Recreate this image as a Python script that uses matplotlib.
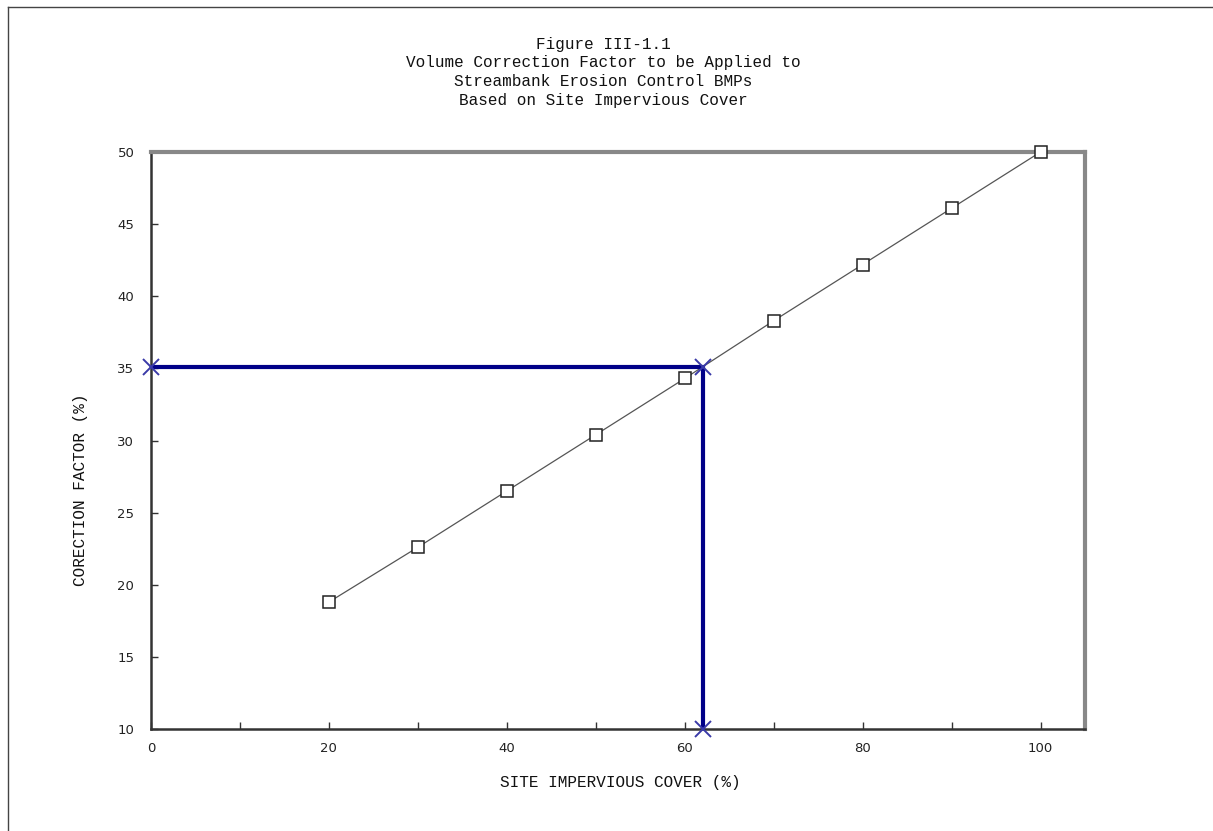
import matplotlib
matplotlib.use('Agg')
import matplotlib.pyplot as plt
from matplotlib.lines import Line2D

# dados da curva
impervious = [20, 30, 40, 50, 60, 70, 80, 90, 100]
factor = [18.8, 22.6, 26.5, 30.4, 34.3, 38.3, 42.2, 46.1, 50.0]

# exemplo de leitura (linha azul)
ex_x = [0, 62, 62]
ex_y = [35.1, 35.1, 10]

title_lines = ['Figure III-1.1',
               'Volume Correction Factor to be Applied to',
               'Streambank Erosion Control BMPs',
               'Based on Site Impervious Cover']

mono = 'Liberation Mono'

fig = plt.figure(figsize=(12.13, 8.31), dpi=100)
ax = fig.add_axes([151 / 1213, 1 - 729 / 831, (1085 - 151) / 1213, (729 - 152) / 831])

ax.plot(impervious, factor, color='#555555', lw=0.9, marker='s', ms=8,
        mfc='white', mec='#222222', mew=1.1, zorder=3, clip_on=False)
ax.plot(ex_x, ex_y, color='#000088', lw=3, solid_joinstyle='miter', zorder=4)
ax.plot(ex_x, ex_y, ls='none', marker='x', ms=11, mec='#3a3aa8', mew=1.4,
        clip_on=False, zorder=5)

ax.set_xlim(0, 105)
ax.set_ylim(10, 50)
ax.set_xticks([0, 20, 40, 60, 80, 100])
ax.set_xticks(range(10, 100, 20), minor=True)
ax.set_yticks(range(10, 51, 5))
ax.tick_params(which='both', direction='in', length=5, width=1, color='#333333',
               labelsize=9.5, labelcolor='#222222')
ax.tick_params(axis='x', pad=9)
ax.tick_params(axis='y', pad=12)

for s in ['left', 'bottom']:
    ax.spines[s].set_color('#333333')
    ax.spines[s].set_linewidth(1.8)
for s in ['top', 'right']:
    ax.spines[s].set_color('#888888')
    ax.spines[s].set_linewidth(3)

# titulo
for i, t in enumerate(title_lines):
    fig.text(603 / 1213, 1 - (44 + i * 18.7) / 831, t, ha='center', va='center',
             family=mono, fontsize=11.5, color='#111111')

fig.text(620 / 1213, 1 - 782 / 831, 'SITE IMPERVIOUS COVER (%)', ha='center',
         va='center', family=mono, fontsize=11.5, color='#111111')
fig.text(80 / 1213, 1 - 490 / 831, 'CORECTION FACTOR (%)', ha='center',
         va='center', rotation=90, family=mono, fontsize=11.5, color='#111111')

# moldura (apenas esquerda e topo)
fig.add_artist(Line2D([8 / 1213, 8 / 1213], [0, 1 - 7 / 831], transform=fig.transFigure,
                      color='#444444', lw=1))
fig.add_artist(Line2D([8 / 1213, 1], [1 - 7 / 831, 1 - 7 / 831], transform=fig.transFigure,
                      color='#444444', lw=1))

fig.savefig('out.png', dpi=100)
